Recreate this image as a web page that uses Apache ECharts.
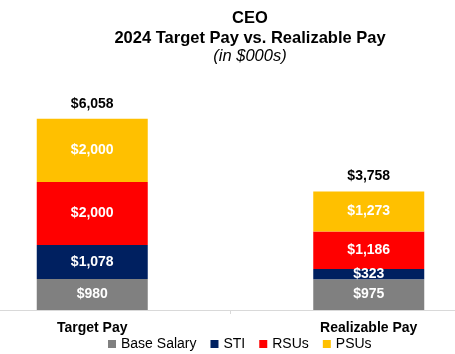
<!DOCTYPE html>
<html>
<head>
<meta charset="utf-8">
<script src="https://cdn.jsdelivr.net/npm/echarts@6/dist/echarts.min.js"></script>
<style>
  html, body { margin: 0; padding: 0; background: #fff; }
  #wrap { width: 455px; height: 354px; overflow: hidden; position: relative; }
  /* plot band runs past both edges of the picture, like the cropped original */
  #chart { width: 553px; height: 354px; position: absolute; left: -46px; top: 0; }
</style>
</head>
<body>
<div id="wrap"><div id="chart"></div></div>
<script>
  // pay components, $000s
  const categories = ['Target Pay', 'Realizable Pay']
  const baseSalary = [980, 975]
  const sti = [1078, 323]
  const rsus = [2000, 1186]
  const psus = [2000, 1273]
  const totals = [6058, 3758]

  const fmt = v => '$' + v.toLocaleString('en-US')

  const font = 'Arial, "Liberation Sans", sans-serif'
  const shift = 46 // chart div offset

  function part(name, data, color) {
    return {
      name: name,
      type: 'bar',
      stack: 'pay',
      barWidth: 111,
      data: data,
      itemStyle: {color: color},
      label: {
        show: true,
        color: '#fff',
        fontWeight: 'bold',
        fontSize: 14,
        fontFamily: font,
        formatter: p => fmt(p.value)
      }
    }
  }

  const chart = echarts.init(document.getElementById('chart'))
  chart.setOption({
    animation: false,
    textStyle: {fontFamily: font},
    graphic: [
      {type: 'text', x: 250 + shift, y: 18, style: {text: 'CEO', font: 'bold 16.5px ' + font, fill: '#000', align: 'center', verticalAlign: 'middle'}},
      {type: 'text', x: 250 + shift, y: 38, style: {text: '2024 Target Pay vs. Realizable Pay', font: 'bold 16.5px ' + font, fill: '#000', align: 'center', verticalAlign: 'middle'}},
      {type: 'text', x: 250 + shift, y: 56, style: {text: '(in $000s)', font: 'italic 16.5px ' + font, fill: '#000', align: 'center', verticalAlign: 'middle'}}
    ],
    legend: {
      data: ['Base Salary', 'STI', 'RSUs', 'PSUs'],
      left: 103 + shift,
      top: 332,
      icon: 'rect',
      itemWidth: 8,
      itemHeight: 8,
      itemGap: 14,
      textStyle: {fontSize: 14, color: '#000', fontFamily: font}
    },
    grid: {left: 0, right: 0, top: 89, bottom: 44},
    xAxis: {
      type: 'category',
      data: categories,
      axisLine: {lineStyle: {color: '#d9d9d9', width: 1}},
      axisTick: {show: true, length: 4, lineStyle: {color: '#d9d9d9'}},
      axisLabel: {color: '#000', fontWeight: 'bold', fontSize: 14, margin: 11, fontFamily: font}
    },
    yAxis: {
      type: 'value',
      min: 0,
      max: 7000,
      show: false,
      splitLine: {show: false}
    },
    series: [
      part('Base Salary', baseSalary, '#808080'),
      part('STI', sti, '#002060'),
      part('RSUs', rsus, '#ff0000'),
      part('PSUs', psus, '#ffc000'),
      {
        name: 'Total',
        type: 'bar',
        stack: 'pay',
        barWidth: 111,
        data: totals.map(() => 0),
        itemStyle: {color: 'transparent'},
        label: {
          show: true,
          position: 'top',
          distance: 8,
          color: '#000',
          fontWeight: 'bold',
          fontSize: 14,
          fontFamily: font,
          formatter: p => fmt(totals[p.dataIndex])
        }
      }
    ]
  })
</script>
</body>
</html>
